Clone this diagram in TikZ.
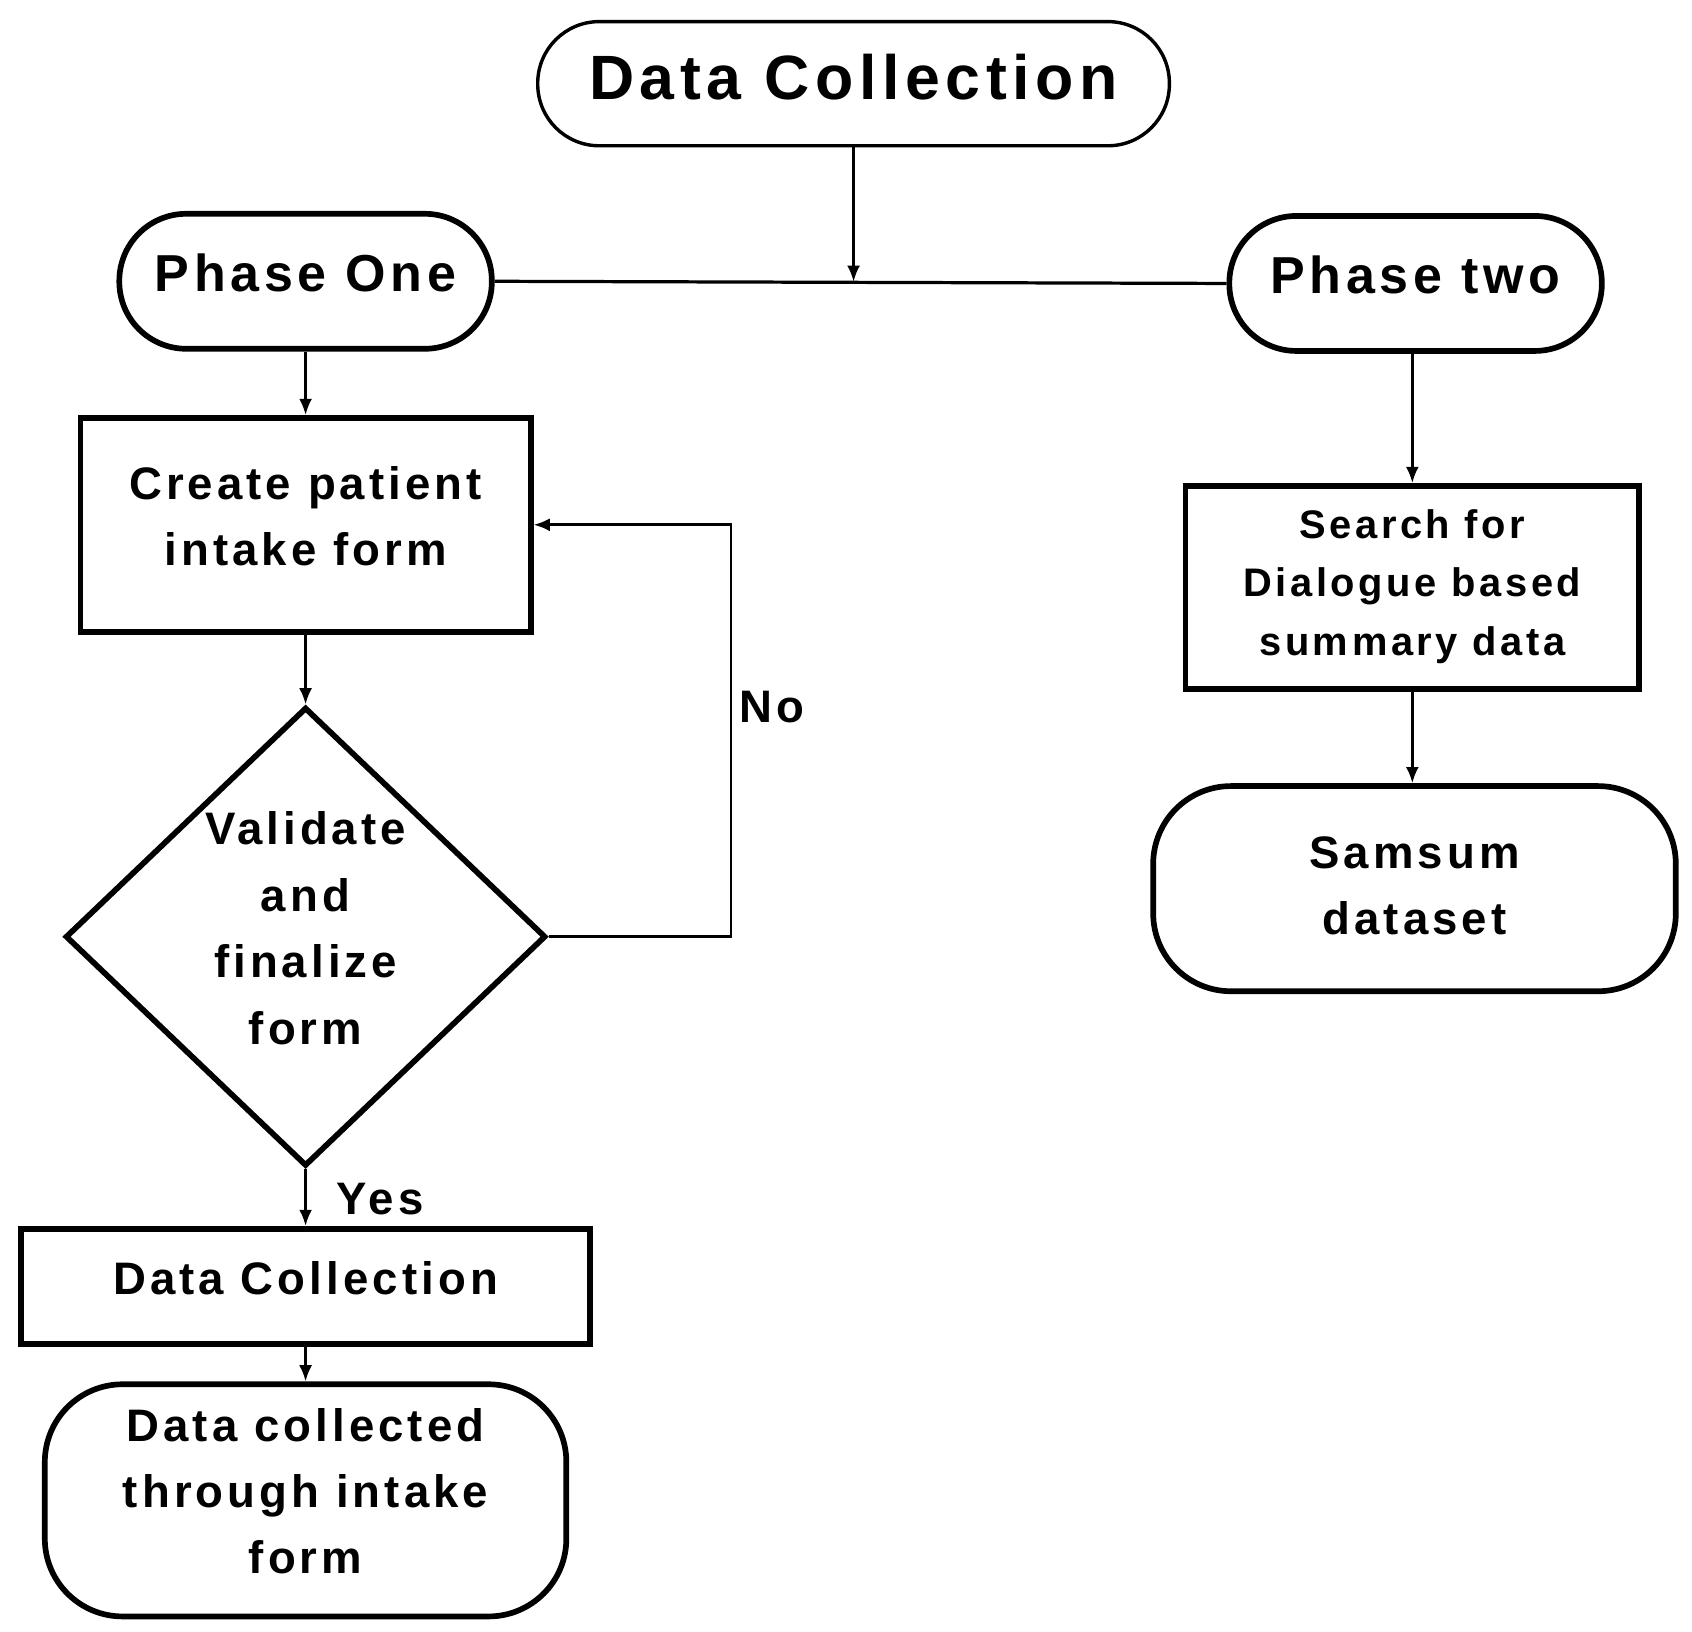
\documentclass[tikz,border=0pt]{standalone}
\usepackage{fontspec}
\setmainfont{Liberation Sans}[LetterSpace=9]
\usetikzlibrary{shapes}
\usetikzlibrary{arrows.meta}
\tikzset{
    pill/.style = {rectangle, draw=black, line width=0.9pt, rounded corners=0.57cm, minimum width=5.85cm, minimum height=1.15cm, text depth=0.12cm, font=\bfseries\fontsize{16.5}{20}\selectfont},
    phase/.style = {rectangle, draw=black, line width=1.5pt, rounded corners=0.62cm, minimum width=3.45cm, minimum height=1.25cm, text depth=0.16cm, font=\bfseries\fontsize{13.7}{16}\selectfont},
    stepbox/.style = {rectangle, draw=black, line width=1.5pt, align=center, inner sep=0pt, text depth=0.16cm, font=\bfseries\fontsize{12}{17.4}\selectfont},
    decision/.style = {diamond, draw=black, line width=1.5pt, align=center, inner sep=0pt, minimum width=4.45cm, minimum height=4.25cm, text depth=0.16cm, font=\bfseries\fontsize{12}{17.6}\selectfont},
    endnode/.style = {rectangle, draw=black, line width=1.5pt, rounded corners=0.72cm, align=center, inner sep=0pt, text depth=0.18cm, font=\bfseries\fontsize{12}{17.4}\selectfont},
    lbl/.style = {font=\bfseries\fontsize{12}{14}\selectfont},
    edgen/.style = {-{Latex[length=1.5mm,width=1.2mm]}, line width=0.7pt},
    edgel/.style = {line width=0.85pt}
}
\begin{document}
\begin{tikzpicture}
  \useasboundingbox (0,0) rectangle (15.67,-15.108);
  % top and the two phases
  \node[pill] at (7.905,-0.775) (top) {Data Collection};
  \node[phase] at (2.83,-2.605) (p1) {Phase One};
  \node[phase] at (13.11,-2.625) (p2) {Phase two};
  \coordinate (join) at (7.905,-2.61);
  % phase one column
  \node[stepbox, minimum width=4.17cm, minimum height=1.98cm] at (2.83,-4.86) (create) {Create patient\\intake form};
  \node[decision] at (2.83,-8.675) (dec) {Validate\\and\\finalize\\form};
  \node[stepbox, minimum width=5.27cm, minimum height=1.07cm] at (2.83,-11.915) (collect) {Data Collection};
  \node[endnode, minimum width=4.83cm, minimum height=2.15cm] at (2.83,-13.895) (final) {Data collected\\through intake\\form};
  % phase two column
  \node[stepbox, minimum width=4.2cm, minimum height=1.88cm, text depth=0.09cm, font=\bfseries\fontsize{10.5}{15.4}\selectfont] at (13.08,-5.44) (search) {Search for\\Dialogue based\\summary data};
  \node[endnode, minimum width=4.84cm, minimum height=1.9cm, text depth=0.06cm] at (13.1,-8.23) (samsum) {Samsum\\dataset};
  % labels
  \node[lbl] at (7.15,-6.55) (no) {No};
  \node[lbl] at (3.52,-11.1) (yes) {Yes};
  % connectors
  \draw[edgel] (p1.east) -- (p2.west);
  \draw[edgen] (top.south) -- (join);
  \draw[edgen] (p1.south) -- (create.north);
  \draw[edgen] (create.south) -- (dec.north);
  \draw[edgen] (dec.south) -- (collect.north);
  \draw[edgen] (collect.south) -- (final.north);
  \draw[edgen] (dec.east) -- ++(1.69,0) |- (create.east);
  \draw[edgen] (p2.south -| search.north) -- (search.north);
  \draw[edgen] (search.south) -- (samsum.north -| search.south);
\end{tikzpicture}
\end{document}
